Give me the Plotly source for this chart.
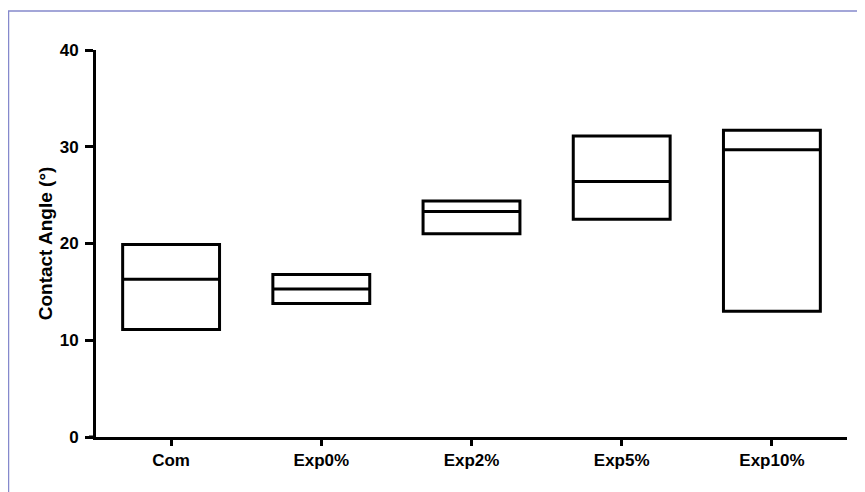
import plotly.graph_objects as go

categories = ["Com", "Exp0%", "Exp2%", "Exp5%", "Exp10%"]
mins = [11.1, 13.8, 21.0, 22.5, 13.0]
medians = [16.3, 15.3, 23.3, 26.4, 29.7]
maxs = [19.9, 16.8, 24.4, 31.1, 31.7]
y_ticks = [0, 10, 20, 30, 40]
y_title = "Contact Angle (°)"

# page is offset by an 8px body margin, so the figure is 8px smaller
W, H = 857, 484
L, R, T, B = 88, 18, 42, 55
pw, ph = W - L - R, H - T - B

fig = go.Figure()
fig.add_trace(go.Box(
    x=categories,
    q1=mins, median=medians, q3=maxs,
    lowerfence=mins, upperfence=maxs,
    width=0.645,
    fillcolor="white",
    line=dict(color="black", width=3),
    whiskerwidth=0,
    boxpoints=False,
    hoverinfo="skip",
    showlegend=False,
))

font = dict(family="Liberation Sans, Arial, sans-serif", size=17, color="black", weight="bold")
title_font = dict(font, size=19)

# outer frame (top and left edges visible)
fig.add_shape(type="rect", xref="paper", yref="paper",
              x0=(0.5 - L) / pw, x1=(W + 10 - L) / pw,
              y0=-(B + 10) / ph, y1=(H - 3 - B) / ph,
              line=dict(color="#8589cc", width=1.5), layer="below")
# x-axis line extension to the left of the y axis
fig.add_shape(type="line", xref="paper", yref="paper",
              x0=-7 / pw, x1=0, y0=0, y1=0,
              line=dict(color="black", width=3))

fig.update_layout(
    width=W, height=H,
    margin=dict(l=L, r=R, t=T, b=B),
    plot_bgcolor="white", paper_bgcolor="white",
    font=font,
    xaxis=dict(
        type="category", range=[-0.5, 4.5],
        showline=True, linecolor="black", linewidth=3,
        ticks="outside", ticklen=6, tickwidth=3, tickcolor="black",
        showgrid=False, zeroline=False, tickfont=font,
    ),
    yaxis=dict(
        range=[0, 40], tickvals=y_ticks,
        showline=True, linecolor="black", linewidth=3,
        ticks="outside", ticklen=8, tickwidth=3, tickcolor="black",
        ticklabelstandoff=3,
        showgrid=False, zeroline=False, tickfont=font,
        title=dict(text=y_title, font=title_font, standoff=3),
    ),
)

fig.write_html("out.html")
